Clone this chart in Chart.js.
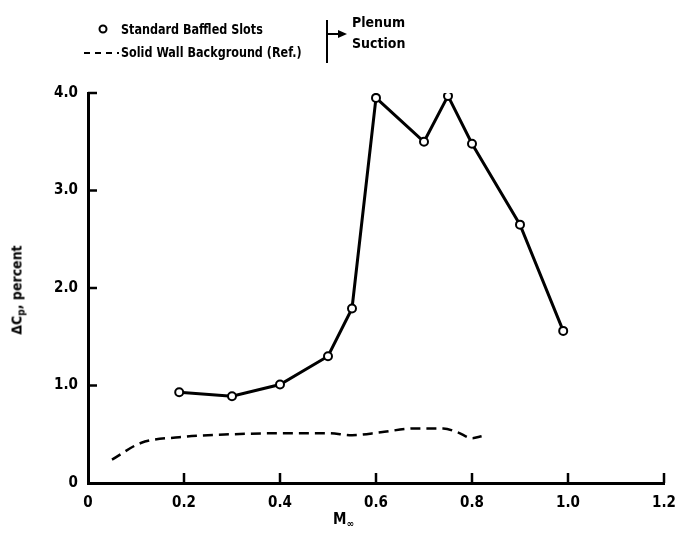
<!DOCTYPE html>
<html>
<head>
<meta charset="utf-8">
<script src="https://cdn.jsdelivr.net/npm/chart.js@4.4.1/dist/chart.umd.min.js"></script>
<style>
    body { margin: 0; background: #fff; }
    #wrap { position: relative; width: 683px; height: 549px; font-family: 'Liberation Sans Narrow', 'DejaVu Sans Condensed', sans-serif; font-weight: bold; color: #000; }
    #wrap canvas { position: absolute; left: 0; top: 0; }
    .txt { position: absolute; font-size: 14px; white-space: nowrap; line-height: 1; }
    .narrow { transform: scaleX(0.89); transform-origin: left center; }
    sub { font-size: 10px; vertical-align: -3px; }
</style>
</head>
<body>
<div id="wrap">
    <canvas id="myChart" width="683" height="549"></canvas>

    <!-- legend -->
    <svg style="position:absolute;left:0;top:0" width="683" height="80">
        <circle cx="103" cy="29" r="3.5" fill="#fff" stroke="#000" stroke-width="2"/>
        <line x1="84" y1="53" x2="119" y2="53" stroke="#000" stroke-width="2" stroke-dasharray="6,5"/>
        <line x1="327" y1="20" x2="327" y2="63" stroke="#000" stroke-width="2"/>
        <line x1="327" y1="34" x2="340" y2="34" stroke="#000" stroke-width="2"/>
        <polygon points="338,30 347,34 338,38" fill="#000"/>
    </svg>
    <div class="txt narrow" style="left:121px;top:22px">Standard Baffled Slots</div>
    <div class="txt narrow" style="left:121px;top:45px">Solid Wall Background (Ref.)</div>
    <div class="txt" style="left:352px;top:15px">Plenum</div>
    <div class="txt" style="left:352px;top:36px">Suction</div>

    <!-- axis titles -->
    <div class="txt" style="left:18px;top:290px;transform:translate(-50%,-50%) rotate(-90deg)">&Delta;C<sub>p</sub>, percent</div>
    <div class="txt" style="left:333px;top:512px;font-size:15px">M<sub>&infin;</sub></div>
</div>

<script>
// standard baffled slots (circles)
const machSlots = [0.19, 0.3, 0.4, 0.5, 0.55, 0.6, 0.7, 0.75, 0.8, 0.9, 0.99];
const dcpSlots = [0.93, 0.89, 1.01, 1.30, 1.79, 3.95, 3.50, 3.97, 3.48, 2.65, 1.56];

// solid wall background (dashed)
const machWall = [0.05, 0.11, 0.19, 0.3, 0.4, 0.5, 0.55, 0.61, 0.68, 0.74, 0.77, 0.8, 0.82];
const dcpWall = [0.24, 0.41, 0.47, 0.50, 0.51, 0.51, 0.49, 0.52, 0.56, 0.56, 0.52, 0.46, 0.48];

const xTickLabels = ['0', '0.2', '0.4', '0.6', '0.8', '1.0', '1.2'];
const yTickLabels = ['0', '1.0', '2.0', '3.0', '4.0'];

const tickFont = { family: "'Liberation Sans Narrow', 'DejaVu Sans Condensed', sans-serif", size: 15, weight: 'bold' };

const toPoints = (xs, ys) => xs.map((x, i) => ({ x: x, y: ys[i] }));

// ticks drawn inward from the axis lines
const innerTicks = {
    id: 'innerTicks',
    afterDraw(chart) {
        const { ctx, scales: { x, y } } = chart;
        ctx.save();
        ctx.strokeStyle = '#000';
        ctx.lineWidth = 2.5;
        x.ticks.forEach(t => {
            if (t.value === 0) return;
            const px = x.getPixelForValue(t.value);
            ctx.beginPath();
            ctx.moveTo(px, y.bottom);
            ctx.lineTo(px, y.bottom - 10);
            ctx.stroke();
        });
        y.ticks.forEach(t => {
            if (t.value === 0) return;
            const py = y.getPixelForValue(t.value);
            ctx.beginPath();
            ctx.moveTo(x.left, py);
            ctx.lineTo(x.left + 9, py);
            ctx.stroke();
        });
        ctx.restore();
    }
};

new Chart(document.getElementById('myChart').getContext('2d'), {
    type: 'line',
    data: {
        datasets: [{
            label: 'Standard Baffled Slots',
            data: toPoints(machSlots, dcpSlots),
            borderColor: '#000',
            borderWidth: 3,
            tension: 0,
            pointRadius: 4,
            pointBorderWidth: 2,
            pointBackgroundColor: '#fff',
            pointBorderColor: '#000'
        }, {
            label: 'Solid Wall Background (Ref.)',
            data: toPoints(machWall, dcpWall),
            borderColor: '#000',
            borderWidth: 2.5,
            borderDash: [10, 6],
            cubicInterpolationMode: 'monotone',
            pointRadius: 0
        }]
    },
    options: {
        responsive: false,
        animation: false,
        layout: { padding: { top: 93, right: 19, left: 0, bottom: 0 } },
        plugins: {
            legend: { display: false },
            tooltip: { enabled: false }
        },
        scales: {
            x: {
                type: 'linear',
                min: 0,
                max: 1.2,
                ticks: {
                    stepSize: 0.2,
                    color: '#000',
                    font: tickFont,
                    padding: 3,
                    maxRotation: 0,
                    callback: (v, i) => xTickLabels[i]
                },
                grid: { display: false },
                border: { color: '#000', width: 3 },
                afterFit: s => { s.height = 66; }
            },
            y: {
                min: 0,
                max: 4,
                ticks: {
                    stepSize: 1,
                    color: '#000',
                    font: tickFont,
                    padding: 2,
                    callback: (v, i) => yTickLabels[i]
                },
                grid: { display: false },
                border: { color: '#000', width: 3 },
                afterFit: s => { s.width = 88; }
            }
        }
    },
    plugins: [innerTicks]
});
</script>
</body>
</html>
